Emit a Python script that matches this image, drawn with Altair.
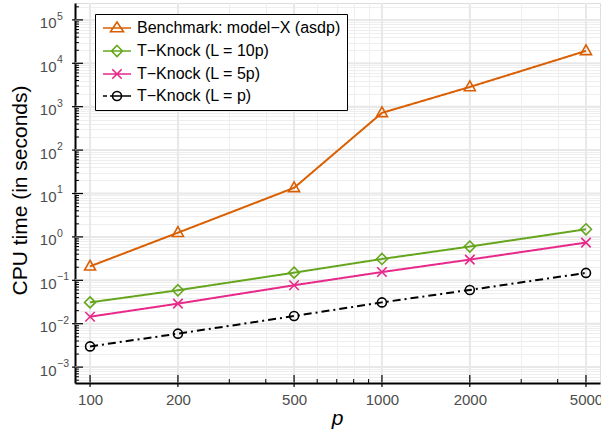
import altair as alt
import pandas as pd

# ---------------- data ----------------
p_values = [100, 200, 500, 1000, 2000, 5000]
series_names = [
    "Benchmark: model−X (asdp)",
    "T−Knock (L = 10p)",
    "T−Knock (L = 5p)",
    "T−Knock (L = p)",
]
benchmark = [0.21, 1.25, 13.5, 720, 2850, 19300]
tknock_10p = [0.031, 0.059, 0.15, 0.31, 0.60, 1.5]
tknock_5p = [0.0145, 0.029, 0.077, 0.155, 0.30, 0.74]
tknock_1p = [0.0030, 0.0059, 0.015, 0.031, 0.060, 0.148]
series_colors = ["#D95F02", "#66A61E", "#E7298A", "#000000"]
series_dashes = [[1, 0], [1, 0], [1, 0], [8, 4, 2, 4]]

x_minor_ticks = [300, 400, 600, 700, 800, 900, 3000, 4000]
y_exponents = list(range(-3, 6))

# ---------------- tables ----------------
rows = []
for name, vals in zip(series_names, [benchmark, tknock_10p, tknock_5p, tknock_1p]):
    for p, v in zip(p_values, vals):
        rows.append({"p": p, "t": v, "series": name})
df = pd.DataFrame(rows)

y_lo, y_hi = 10 ** -3.366, 10 ** 5.389
x_lo, x_hi = 88.8, 5585

y_major = [float(f"1e{e}") for e in y_exponents]
y_minor = [float(f"{m}e{e}") for e in range(-4, 6) for m in range(2, 10)
           if y_lo <= float(f"{m}e{e}") <= y_hi]
x_all = sorted(p_values + x_minor_ticks)
exp_df = pd.DataFrame({"v": y_major, "lab": [str(e).replace("-", "−") for e in y_exponents]})

yscale = alt.Scale(type="log", domain=[y_lo, y_hi], nice=False, zero=False)
xscale = alt.Scale(type="log", domain=[x_lo, x_hi], nice=False, zero=False)

y_label_expr = "indexof(%s, datum.value) >= 0 ? '10' : ''" % ("[" + ",".join(repr(v) for v in y_major) + "]")

x_axis = alt.Axis(
    values=x_all, grid=True, gridColor="#eeeeee", gridWidth=1,
    ticks=False, tickSize=0, labelPadding=9,
    labelExpr="indexof([100,200,500,1000,2000,5000], datum.value) >= 0 ? datum.value : ''",
    labelFontSize=15, labelColor="#4d4d4d", labelFont="Liberation Sans",
    title="p", titleFontStyle="italic", titleFontWeight="normal",
    titleFontSize=21, titleFont="Liberation Sans", titleColor="#000",
    titleX=262, titleY=41, titleBaseline="alphabetic",
    domainColor="#000", domainWidth=2, labelFlush=False, labelOverlap=False,
)
y_axis = alt.Axis(
    values=sorted(y_major + y_minor), grid=True, gridColor="#eeeeee", gridWidth=1,
    ticks=False, tickSize=0, labelPadding=19, labelExpr=y_label_expr, labelOffset=3,
    labelFontSize=15, labelColor="#4d4d4d", labelFont="Liberation Sans",
    title="CPU time (in seconds)", titleFontWeight="normal",
    titleFontSize=21, titleFont="Liberation Sans", titleColor="#000",
    titleX=-55, titleY=187, titleBaseline="middle", titleAlign="center",
    domainColor="#000", domainWidth=2, labelFlush=False, labelOverlap=False,
)

# marker paths (unit box)
tri = "M0,-1.2L1.1,0.75L-1.1,0.75Z"
dia = "M0,-1.1L1.1,0L0,1.1L-1.1,0Z"
crs = "M-0.95,-0.95L0.95,0.95M-0.95,0.95L0.95,-0.95"
cir = "M0.9,0A0.9,0.9,0,1,1,-0.9,0A0.9,0.9,0,1,1,0.9,0Z"
markers = [tri, dia, crs, cir]
tri_leg = "M0,-1.2L1.3,0.75L-1.3,0.75Z"
legend_paths = [
    "M-2.8,0H2.8" + tri_leg,
    "M-2.8,0H2.8" + dia,
    "M-2.8,0H2.8" + crs,
    "M-2.8,0H-2.0M-1.4,0H2.8" + cir,
]

base = alt.Chart(df)
X = alt.X("p:Q", scale=xscale, axis=x_axis)
Y = alt.Y("t:Q", scale=yscale, axis=y_axis)

# major grid lines (thicker)
grid_y = alt.Chart(pd.DataFrame({"v": y_major})).mark_rule(
    color="#e8e8e8", strokeWidth=2
).encode(y=alt.Y("v:Q", scale=yscale, axis=y_axis))
grid_x = alt.Chart(pd.DataFrame({"v": p_values})).mark_rule(
    color="#e8e8e8", strokeWidth=2
).encode(x=alt.X("v:Q", scale=xscale, axis=x_axis))

data_layers = []
for name, col, dash in zip(series_names, series_colors, series_dashes):
    data_layers.append(
        base.transform_filter(alt.datum.series == name)
        .mark_line(color=col, strokeWidth=2, strokeDash=dash)
        .encode(x=X, y=Y)
    )
for name, col, shp in zip(series_names, series_colors, markers):
    data_layers.append(
        base.transform_filter(alt.datum.series == name)
        .mark_point(shape=shp, color=col, filled=False, size=100, strokeWidth=1.6, opacity=1)
        .encode(x=X, y=Y)
    )

leg = alt.Legend(
    title=None, orient="none", legendX=20, legendY=11, padding=6,
    symbolSize=100, symbolStrokeWidth=1.6, symbolOpacity=1,
    symbolOffset=8, labelOffset=12, rowPadding=6,
    labelFontSize=16, labelFont="Liberation Sans", labelColor="#000",
    strokeColor="#000", fillColor="#ffffff", labelLimit=400,
)
legend_layer = base.mark_point(filled=False, size=100, opacity=0).encode(
    x=X, y=Y,
    color=alt.Color("series:N", scale=alt.Scale(domain=series_names, range=series_colors), legend=leg),
    shape=alt.Shape("series:N", scale=alt.Scale(domain=series_names, range=legend_paths), legend=leg),
)

# exponents of the y tick labels
exp_layer = alt.Chart(exp_df).mark_text(
    align="left", baseline="middle", dy=-3, fontSize=10.5,
    font="Liberation Sans", color="#4d4d4d",
).encode(
    y=alt.Y("v:Q", scale=yscale, axis=y_axis), x=alt.value(-18), text="lab:N"
)

# inward tick marks
tick_ymaj = alt.Chart(pd.DataFrame({"v": y_major})).mark_rule(color="#000", strokeWidth=1.2).encode(
    y=alt.Y("v:Q", scale=yscale, axis=y_axis), x=alt.value(-3), x2=alt.value(8))
tick_ymin = alt.Chart(pd.DataFrame({"v": y_minor})).mark_rule(color="#000", strokeWidth=1).encode(
    y=alt.Y("v:Q", scale=yscale, axis=y_axis), x=alt.value(0), x2=alt.value(4))
tick_xmaj = alt.Chart(pd.DataFrame({"v": p_values})).mark_rule(color="#000", strokeWidth=1.2).encode(
    x=alt.X("v:Q", scale=xscale, axis=x_axis), y=alt.value(384), y2=alt.value(372))
tick_xmin = alt.Chart(pd.DataFrame({"v": x_minor_ticks})).mark_rule(color="#000", strokeWidth=1).encode(
    x=alt.X("v:Q", scale=xscale, axis=x_axis), y=alt.value(380), y2=alt.value(376))

chart = alt.layer(
    grid_y, grid_x, *data_layers, legend_layer, exp_layer,
    tick_ymaj, tick_ymin, tick_xmaj, tick_xmin,
).properties(
    width=525, height=380,
    autosize=alt.AutoSizeParams(type="none"),
    padding={"left": 75, "top": 3, "right": 1, "bottom": 49},
).configure_view(
    stroke="#222", strokeWidth=2
).configure_legend(
    strokeWidth=1.5
).configure(background="white")

chart.save("out.html", embed_options={"renderer": "svg", "actions": False})
